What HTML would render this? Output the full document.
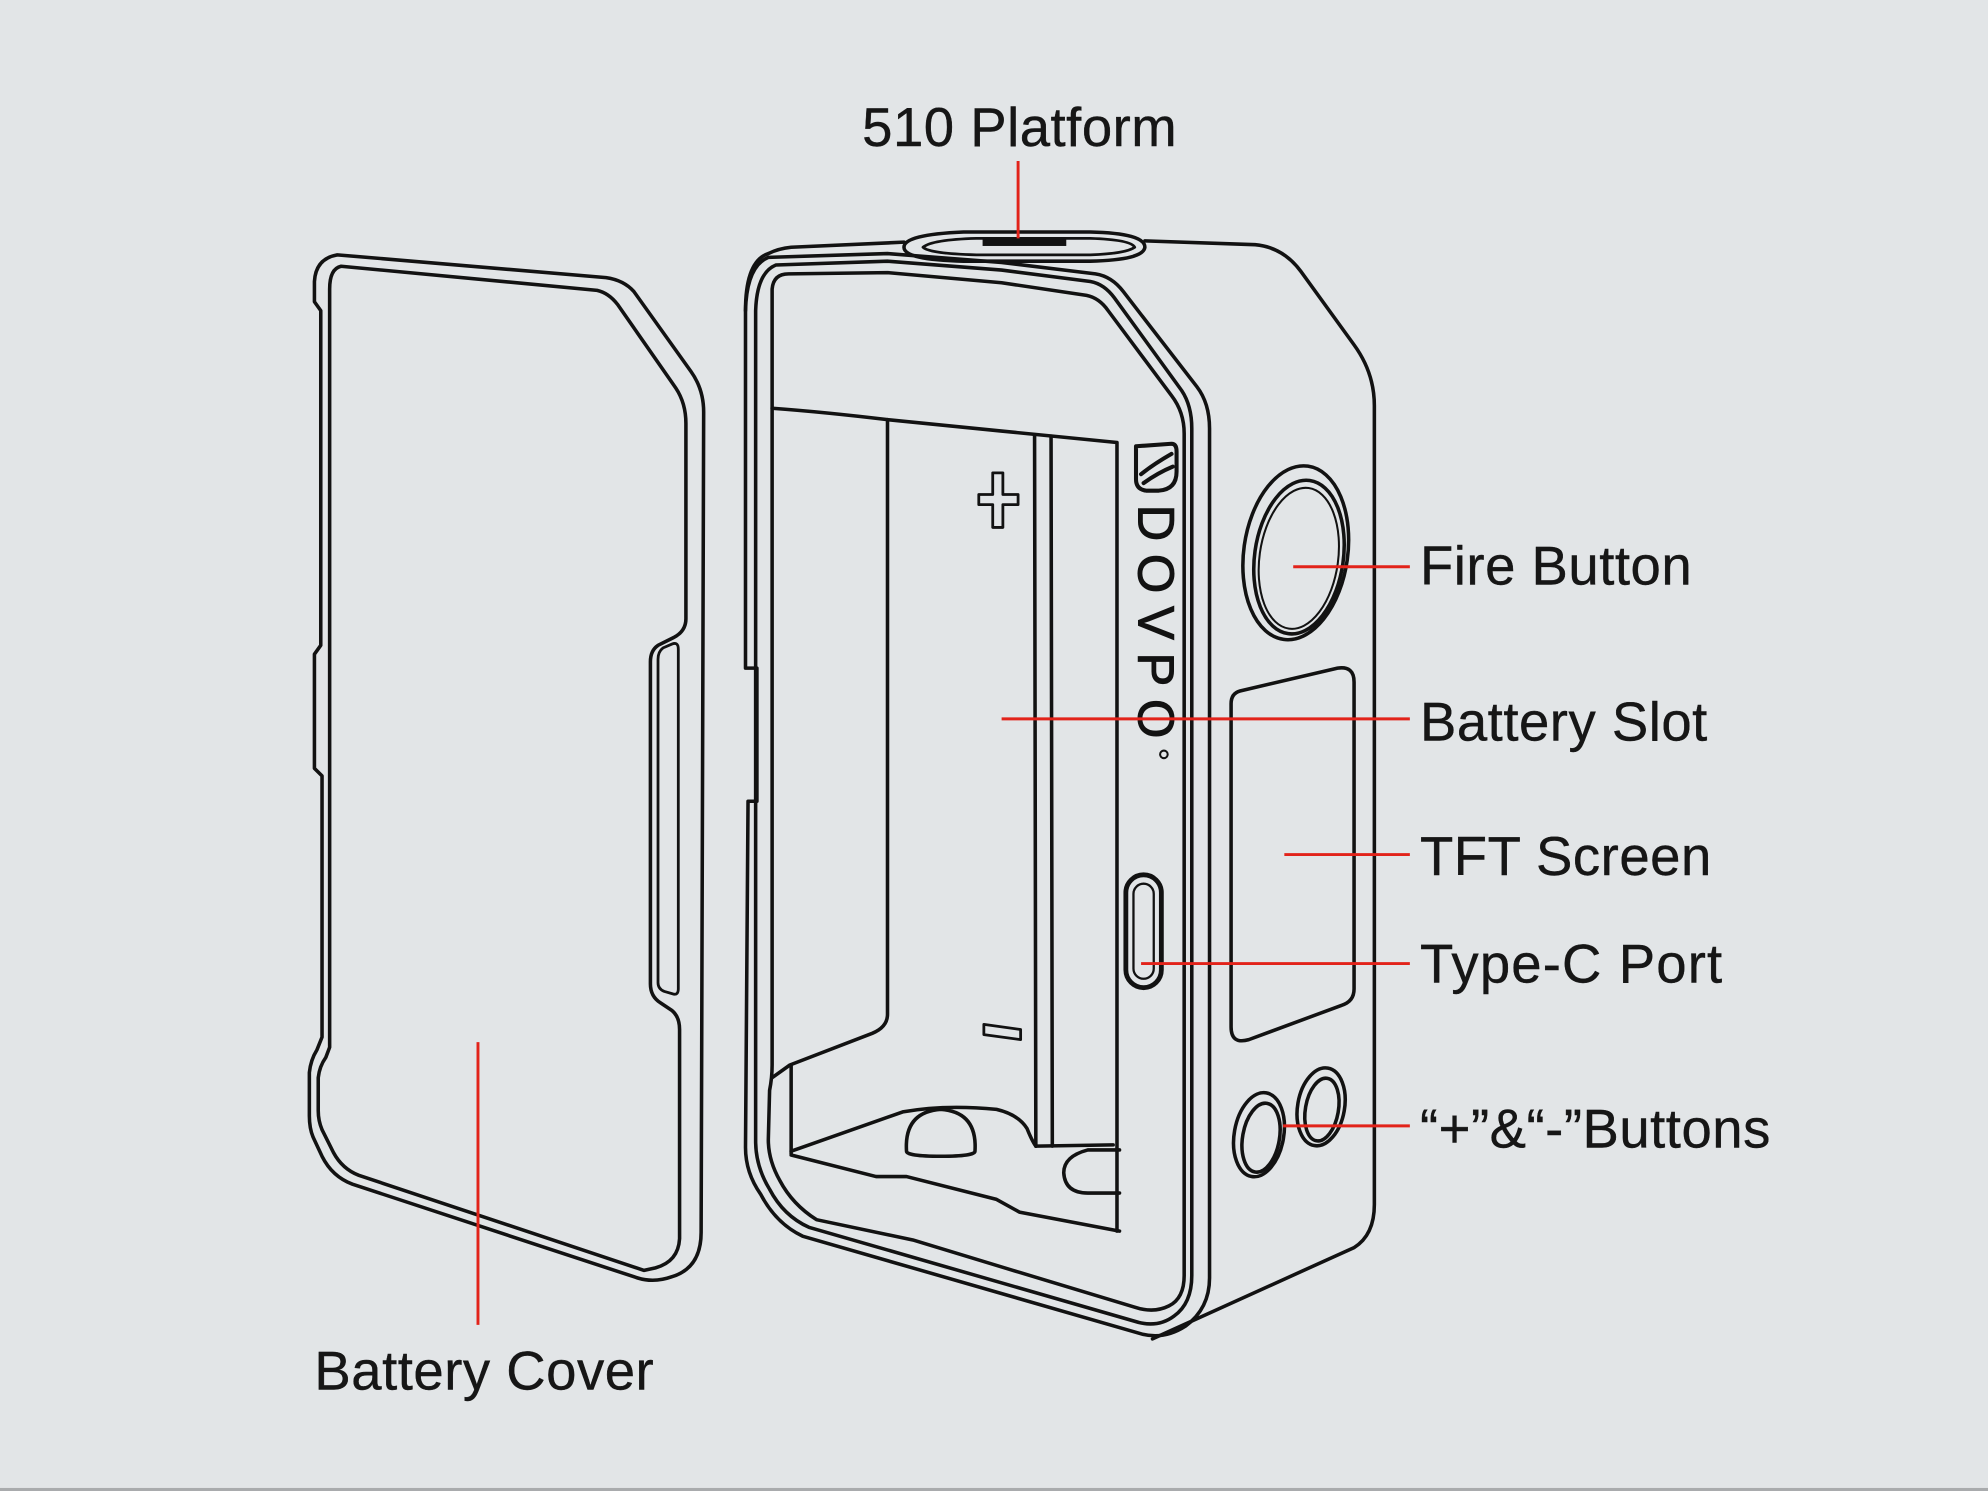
<!DOCTYPE html>
<html>
<head>
<meta charset="utf-8">
<style>
html,body{margin:0;padding:0;background:#e2e5e7;}
svg{display:block;}
text{font-family:"Liberation Sans",Arial,sans-serif;}
</style>
</head>
<body>
<svg width="1988" height="1491" viewBox="0 0 1568 1176" xmlns="http://www.w3.org/2000/svg">
<rect width="1568" height="1176" fill="#e2e5e7"/>
<rect y="1173.6" width="1568" height="2.4" fill="#a9abad"/>

<g fill="none" stroke="#121212" stroke-width="2.8" stroke-linejoin="round" stroke-linecap="round">
  <!-- Battery cover -->
  <path d="M 266,201 L 478,219 Q 492,221 500,230 L 545,293 Q 555,307 555,325 L 553,972 Q 553,1000 530,1007 Q 516,1012 503,1008 L 278,934 Q 262,928 254,912 L 247,897 Q 244,890 244,880 L 244,846 Q 245,836 250,828 L 254,818 L 254,612 L 248,606 L 248,516 L 253,509 L 253,245 L 248,238 L 248,222 Q 249,204 266,201 Z"/>
  <path d="M 269,210 L 471,229 Q 480,231 487,240 L 533,306 Q 541,318 541,334 L 541,488 Q 541,498 531,503 L 519,509 Q 513,513 513,522 L 513,776 Q 513,786 521,791 L 530,797 Q 536,802 536,812 L 536,977 Q 535,995 517,1000 L 508,1002 L 283,927 Q 270,922 263,909 L 254,891 Q 251,884 251,876 L 251,850 Q 252,841 257,834 L 260,826 L 260,228 Q 260,212 269,210 Z"/>
  <path d="M 535,512 Q 535,506 530,508 L 523,511 Q 519,514 519,520 L 519,775 Q 519,780 524,782 L 531,784 Q 535,785 535,780 Z" stroke-width="2.2"/>

  <!-- Body silhouette -->
  <path d="M 588,245 Q 588,206 606,200 Q 614,196 624,195 L 713,191"/>
  <path d="M 903,190 L 990,193 Q 1012,195 1026,214 L 1068,272 Q 1084,294 1084,320 L 1084,950 Q 1084,974 1068,984 L 909,1056"/>

  <!-- 510 platform -->
  <path d="M 713,195 Q 713,185 760,183 L 860,183 Q 903,184 903,195 Q 902,205 860,206 L 760,206 Q 713,205 713,195 Z"/>
  <path d="M 728,195 Q 735,189 770,188 L 860,188 Q 892,189 895,195 Q 888,200 860,201 L 770,201 Q 733,200 728,195 Z" stroke-width="2.2"/>

  <!-- Frame lines -->
  <path d="M 588,245 Q 589,210 606,203 L 700,200 L 790,207 L 864,216 Q 877,218 886,230 L 944,305 Q 954,318 954,338 L 954,1008 Q 954,1032 935,1046 Q 918,1057 900,1052 L 633,975 Q 612,965 600,942 Q 588,925 588,905 L 590,632 L 597,632 L 597,527 L 588,527 Z"/>
  <path d="M 596,245 Q 597,215 612,209 L 700,206 L 790,213 L 860,222 Q 871,224 879,235 L 932,308 Q 940,320 940,338 L 940,1006 Q 940,1028 926,1038 Q 914,1047 898,1043 L 638,968 Q 618,959 607,938 Q 596,920 596,900 Z"/>
  <path d="M 609,840 L 609,228 Q 610,216 622,216 L 700,215 L 790,223 L 857,233 Q 867,235 874,245 L 924,312 Q 934,325 934,342 L 934,1006 Q 934,1024 922,1030 Q 910,1036 895,1031 L 799,1002 L 720,978 L 644,962 Q 625,950 615,931 Q 606,915 606,899 L 607,860 Q 609,850 609,840"/>

  <!-- Cavity -->
  <path d="M 609,322 Q 650,325 700,331 L 790,340 L 881,349 L 881,971"/>
  <path d="M 700,331 L 700,800 Q 700,810 688,815 L 623,840 L 609,850"/>
  <path d="M 624,840 L 624,910"/>
  <path d="M 816,343 L 817,904"/>
  <path d="M 829,344 L 830,904"/>
  <path d="M 817,904 L 878,903"/>
  <path d="M 624,908 L 712,877 Q 745,871 786,875 Q 803,879 810,890 Q 814,900 817,904"/>
  <path d="M 624,911 L 691,928 L 715,928 L 786,946 L 804,956 L 883,971"/>
  <path d="M 715,908 Q 713,877 742,875 Q 771,877 769,908 Q 769,912 742,912 Q 715,912 715,908 Z"/>
  <path d="M 883,907 L 858,907 Q 839,912 839,925 Q 840,941 858,941 L 883,941"/>

  <!-- + and - -->
  <path d="M 783,373 L 791,373 L 791,390 L 803,390 L 803,398 L 791,398 L 791,416 L 783,416 L 783,398 L 772,398 L 772,390 L 783,390 Z" stroke-width="2.2"/>
  <path d="M 776,808 L 805,812 L 805,820 L 776,816 Z" stroke-width="2.2"/>

  <!-- Logo icon -->
  <path d="M 896,352 L 924,350 Q 928,350 928,356 L 928,372 Q 928,386 914,387 L 904,387 Q 896,386 896,378 Z" stroke-width="3.2"/>
  <path d="M 900,374 Q 910,366 924,358" stroke-width="3.2"/>
  <path d="M 902,381 Q 913,373 925,368" stroke-width="3.2"/>
  <circle cx="918" cy="595" r="3" stroke-width="1.6"/>

  <!-- Fire button -->
  <g transform="rotate(8 1022 436)">
    <ellipse cx="1022" cy="436" rx="41" ry="69"/>
    <ellipse cx="1025" cy="439" rx="35" ry="61"/>
    <ellipse cx="1025" cy="440" rx="31" ry="56" stroke-width="1.6"/>
  </g>

  <!-- TFT screen -->
  <path d="M 978,545 L 1055,527 Q 1068,525 1068,538 L 1068,780 Q 1068,790 1058,793 L 985,820 Q 971,824 971,810 L 971,555 Q 971,547 978,545 Z"/>

  <!-- Type-C -->
  <rect x="888" y="690" width="28" height="89" rx="14" stroke-width="3.8"/>
  <rect x="894" y="697" width="16" height="75" rx="8" stroke-width="1.8"/>

  <!-- +/- buttons -->
  <g transform="rotate(10 993 895)">
    <ellipse cx="993" cy="895" rx="19.5" ry="33.5"/>
    <ellipse cx="995" cy="897" rx="14.5" ry="27.5"/>
  </g>
  <g transform="rotate(10 1042 873)">
    <ellipse cx="1042" cy="873" rx="18.5" ry="31"/>
    <ellipse cx="1043" cy="875" rx="13" ry="25"/>
  </g>
</g>

<rect x="775" y="187" width="66" height="7" fill="#121212"/>

<text transform="translate(898,398) rotate(90)" font-size="40" letter-spacing="10" fill="#121212" stroke="#121212" stroke-width="0.8">DOVPO</text>

<!-- Red leader lines -->
<g stroke="#e2231a" stroke-width="2.3" fill="none">
  <line x1="803" y1="127" x2="803" y2="188"/>
  <line x1="1020" y1="447" x2="1112" y2="447"/>
  <line x1="790" y1="567" x2="1112" y2="567"/>
  <line x1="1013" y1="674" x2="1112" y2="674"/>
  <line x1="900" y1="760" x2="1112" y2="760"/>
  <line x1="1012" y1="888" x2="1112" y2="888"/>
  <line x1="377" y1="822" x2="377" y2="1045"/>
</g>

<!-- Labels -->
<g font-size="43" fill="#161616" stroke="#161616" stroke-width="0.3" letter-spacing="0.4">
  <text x="680" y="115">510 Platform</text>
  <text x="1120" y="461">Fire Button</text>
  <text x="1120" y="584">Battery Slot</text>
  <text x="1120" y="690">TFT Screen</text>
  <text x="1120" y="775" letter-spacing="0.9">Type-C Port</text>
  <text x="1120" y="905">“+”&amp;“-”Buttons</text>
  <text x="248" y="1096">Battery Cover</text>
</g>
</svg>
</body>
</html>
